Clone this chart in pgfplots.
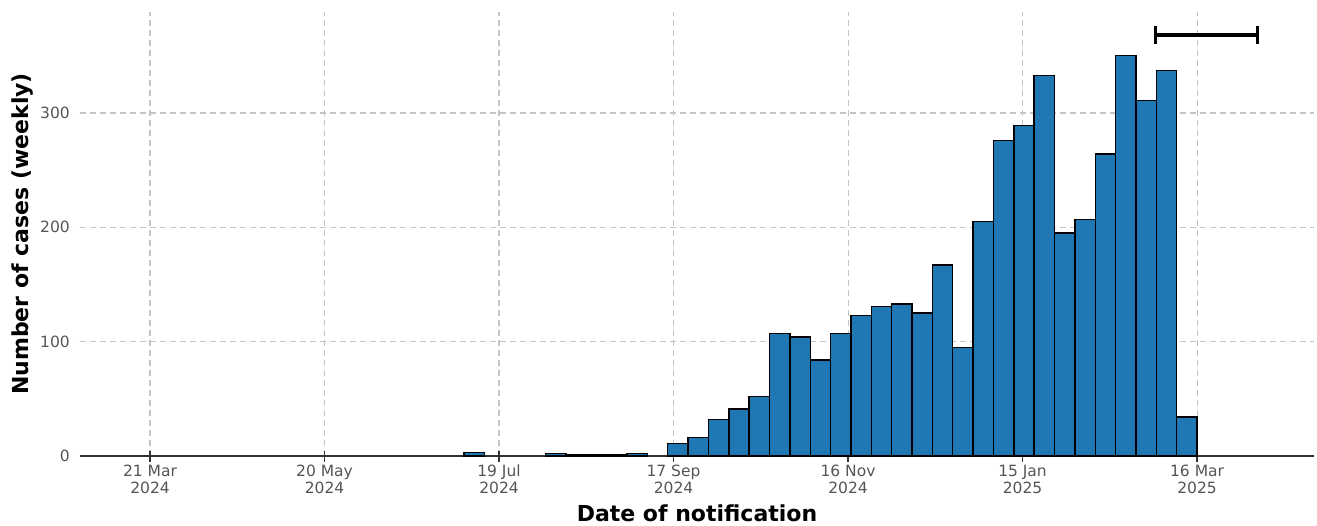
\documentclass[border=0pt]{standalone}
\usepackage{pgfplots}
\pgfplotsset{compat=1.18}
\usepackage{fontspec}
\setmainfont{DejaVu Sans}
\definecolor{barblue}{HTML}{1F77B4}
\definecolor{gridgray}{HTML}{C4C4C4}
\definecolor{ticktext}{HTML}{555555}
\definecolor{axisdark}{HTML}{333333}
\pgfplotstableread{
center value
111.5 3
139.5 2
146.5 1
153.5 1
160.5 1
167.5 2
181.5 11
188.5 16
195.5 32
202.5 41
209.5 52
216.5 107
223.5 104
230.5 84
237.5 107
244.5 123
251.5 131
258.5 133
265.5 125
272.5 167
279.5 95
286.5 205
293.5 276
300.5 289
307.5 333
314.5 195
321.5 207
328.5 264
335.5 350
342.5 311
349.5 337
356.5 34
}\cases
\begin{document}
\begin{tikzpicture}
\begin{axis}[
  scale only axis, width=1234pt, height=444pt,
  xmin=-24.07, xmax=400.2, ymin=0, ymax=388.3,
  axis x line*=bottom, axis y line*=left,
  y axis line style={draw=none},
  x axis line style={draw=axisdark, line width=2pt, -},
  xtick={0,60,120,180,240,300,360},
  xticklabels={21 Mar\\2024,20 May\\2024,19 Jul\\2024,17 Sep\\2024,16 Nov\\2024,15 Jan\\2025,16 Mar\\2025},
  ytick={0,100,200,300},
  /pgf/number format/assume math mode=true,
  grid=major,
  major grid style={draw=gridgray, line width=1.1pt, dash pattern=on 6pt off 4pt},
  xtick style={draw=axisdark, line width=1.5pt},
  ytick style={draw=none},
  xtick align=center,
  major tick length=11pt,
  x tick label style={font=\fontsize{15.5}{16.6}\selectfont, text=ticktext, align=center, inner sep=0pt, anchor=north, yshift=-3.5pt},
  y tick label style={font=\fontsize{15.5}{16.6}\selectfont, text=ticktext, inner sep=0pt, anchor=east, xshift=-10pt},
  xlabel={Date of notification},
  ylabel={Number of cases (weekly)},
  xlabel style={font=\fontsize{22}{24}\selectfont\bfseries, at={(axis description cs:0.5,-0.1464)}, anchor=base, inner sep=0pt},
  ylabel style={font=\fontsize{22}{24}\selectfont\bfseries, at={(axis description cs:-0.0464,0.5)}, anchor=center, rotate=0, inner sep=0pt},
]
\addplot[ybar, bar width=7, bar shift=0pt, fill=barblue, draw=black, line width=1.4pt] table[x=center, y=value] {\cases};
\addplot[line width=3.5pt, draw=black] coordinates {(345.7,368) (380.8,368)};
\addplot[only marks, mark=|, mark size=9pt, mark options={line width=3.5pt, draw=black}] coordinates {(345.7,368) (380.8,368)};
\end{axis}
\path (current axis.south west) ++(-80pt,-69pt) rectangle ++(1317pt,525pt);
\end{tikzpicture}
\end{document}
